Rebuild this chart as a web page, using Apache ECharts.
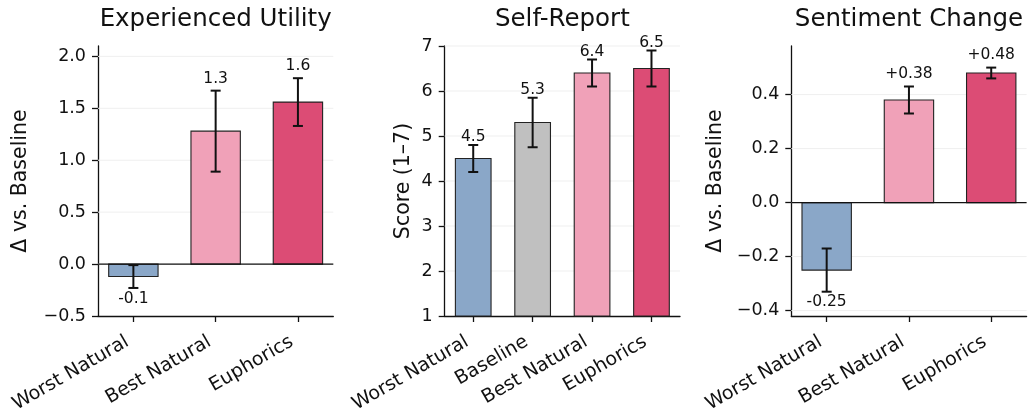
<!DOCTYPE html>
<html>
<head>
<meta charset="utf-8">
<script src="https://cdn.jsdelivr.net/npm/echarts@6/dist/echarts.min.js"></script>
<style>
  html, body { margin: 0; padding: 0; background: #ffffff; }
  #chart { width: 1028px; height: 408px; }
</style>
</head>
<body>
<div id="chart"></div>
<script>
// ---- data ----
const utilCats = ['Worst Natural', 'Best Natural', 'Euphorics'];
const utilMean = [-0.12, 1.28, 1.56];
const utilErr = [0.11, 0.39, 0.23];
const utilTicks = [-0.5, 0, 0.5, 1, 1.5, 2];

const selfCats = ['Worst Natural', 'Baseline', 'Best Natural', 'Euphorics'];
const selfMean = [4.5, 5.3, 6.4, 6.5];
const selfErr = [0.3, 0.55, 0.3, 0.4];
const selfTicks = [1, 2, 3, 4, 5, 6, 7];

const sentCats = ['Worst Natural', 'Best Natural', 'Euphorics'];
const sentMean = [-0.25, 0.38, 0.48];
const sentErr = [0.08, 0.05, 0.02];
const sentTicks = [-0.4, -0.2, 0, 0.2, 0.4];

const panelTitles = ['Experienced Utility', 'Self-Report', 'Sentiment Change'];
const panelYNames = ['Δ vs. Baseline', 'Score (1–7)', 'Δ vs. Baseline'];

// ---- styling ----
const FONT = '"DejaVu Sans", "Liberation Sans", sans-serif';
const INK = '#111111';
const groupColors = {
  'Worst Natural': '#8aa7c8',
  'Baseline': '#c0c0c0',
  'Best Natural': '#f0a1b8',
  'Euphorics': '#dc4c75'
};
const BAR_W = 0.6;

const minusFmt = (dec) => (v) => (v < 0 ? '\u2212' : '') + Math.abs(v).toFixed(dec);

const panels = [
  {
    cats: utilCats, mean: utilMean, err: utilErr, ticks: utilTicks,
    yMin: -0.5, yMax: 2.1, tickFmt: minusFmt(1),
    valFmt: (v) => v.toFixed(1), zeroLine: true,
    left: 98, nameGap: 67, gapUp: 4, gapDown: 3
  },
  {
    cats: selfCats, mean: selfMean, err: selfErr, ticks: selfTicks,
    yMin: 1, yMax: 7, tickFmt: minusFmt(0),
    valFmt: (v) => v.toFixed(1), zeroLine: false,
    left: 444.7, nameGap: 31, gapUp: 0, gapDown: 3
  },
  {
    cats: sentCats, mean: sentMean, err: sentErr, ticks: sentTicks,
    yMin: -0.42, yMax: 0.58, tickFmt: minusFmt(1),
    valFmt: (v) => (v > 0 ? '+' : '') + v.toFixed(2), zeroLine: true,
    left: 791.3, nameGap: 65, gapUp: 5, gapDown: 2
  }
];

const GRID_TOP = 46, GRID_H = 270, GRID_W = 235.3;

const grid = [], xAxis = [], yAxis = [], series = [], title = [];

panels.forEach((p, i) => {
  const n = p.cats.length;
  const pad = 0.05 * (n - 1 + BAR_W);
  const xMin = -BAR_W / 2 - pad;
  const xMax = n - 1 + BAR_W / 2 + pad;
  const idx = p.cats.map((_, k) => k);
  const base = Math.min(Math.max(0, p.yMin), p.yMax);

  grid.push({
    left: p.left, top: GRID_TOP, width: GRID_W, height: GRID_H,
    containLabel: false, outerBoundsMode: 'none'
  });

  title.push({
    text: panelTitles[i],
    left: p.left + GRID_W / 2,
    top: 7,
    padding: 0,
    textAlign: 'center',
    textStyle: { fontFamily: FONT, fontSize: 24.5, fontWeight: 'normal', color: INK }
  });

  xAxis.push({
    type: 'value', gridIndex: i, min: xMin, max: xMax,
    axisLine: { show: true, onZero: false, lineStyle: { color: INK, width: 1.3 } },
    axisTick: { show: true, length: 6, customValues: idx, lineStyle: { color: INK, width: 1.3 } },
    axisLabel: {
      customValues: idx, rotate: 30, margin: 21, padding: [0, 7, 0, 0],
      formatter: (v) => p.cats[Math.round(v)],
      fontFamily: FONT, fontSize: 19, color: INK
    },
    splitLine: { show: false }
  });

  yAxis.push({
    type: 'value', gridIndex: i, min: p.yMin, max: p.yMax,
    name: panelYNames[i], nameLocation: 'middle', nameGap: p.nameGap,
    nameTextStyle: { fontFamily: FONT, fontSize: 20.5, color: INK },
    axisLine: { show: true, onZero: false, lineStyle: { color: INK, width: 1.3 } },
    axisTick: { show: true, length: 6, customValues: p.ticks, lineStyle: { color: INK, width: 1.3 } },
    axisLabel: {
      customValues: p.ticks, margin: 12, formatter: p.tickFmt,
      fontFamily: FONT, fontSize: 17.5, color: INK
    },
    splitLine: { show: false }
  });

  // faint horizontal grid lines at the y ticks inside the plot area
  series.push({
    type: 'custom', xAxisIndex: i, yAxisIndex: i, silent: true, z: 1,
    data: p.ticks.filter((t) => t > p.yMin).map((t) => [t]),
    encode: { y: 0 },
    renderItem: (params, api) => {
      const v = api.value(0);
      const a = api.coord([xMin, v]);
      const b = api.coord([xMax, v]);
      return { type: 'line', shape: { x1: a[0], y1: a[1], x2: b[0], y2: b[1] },
               style: { stroke: '#efefef', lineWidth: 1 } };
    }
  });

  // bars
  series.push({
    type: 'custom', xAxisIndex: i, yAxisIndex: i, z: 2,
    data: p.mean.map((m, k) => [k, m, p.err[k]]),
    encode: { x: 0, y: 1 },
    renderItem: (params, api) => {
      const k = api.value(0), m = api.value(1);
      const a = api.coord([k - BAR_W / 2, m]);
      const b = api.coord([k + BAR_W / 2, base]);
      return {
        type: 'rect',
        shape: { x: a[0], y: Math.min(a[1], b[1]), width: b[0] - a[0], height: Math.abs(b[1] - a[1]) },
        style: { fill: groupColors[p.cats[k]], stroke: '#222222', lineWidth: 1.1 }
      };
    }
  });

  // zero reference line
  if (p.zeroLine) {
    series.push({
      type: 'custom', xAxisIndex: i, yAxisIndex: i, silent: true, z: 3,
      data: [[0]],
      encode: { y: 0 },
      renderItem: (params, api) => {
        const a = api.coord([xMin, api.value(0)]);
        const b = api.coord([xMax, api.value(0)]);
        return { type: 'line', shape: { x1: a[0], y1: a[1], x2: b[0], y2: b[1] },
                 style: { stroke: INK, lineWidth: 1.3 } };
      }
    });
  }

  // error bars with caps, and value labels
  series.push({
    type: 'custom', xAxisIndex: i, yAxisIndex: i, z: 4,
    data: p.mean.map((m, k) => [k, m, p.err[k]]),
    encode: { x: 0, y: 1 },
    renderItem: (params, api) => {
      const k = api.value(0), m = api.value(1), e = api.value(2);
      const top = api.coord([k, m + e]);
      const bot = api.coord([k, m - e]);
      const cap = 5;
      const ls = { stroke: '#111111', lineWidth: 2 };
      const labelStyle = {
        text: p.valFmt(m), fontFamily: FONT, fontSize: 15.5, fill: INK, align: 'center'
      };
      const label = m >= 0
        ? { type: 'text', x: top[0], y: top[1] - p.gapUp, style: Object.assign({ verticalAlign: 'bottom' }, labelStyle) }
        : { type: 'text', x: bot[0], y: bot[1] + p.gapDown, style: Object.assign({ verticalAlign: 'top' }, labelStyle) };
      return {
        type: 'group',
        children: [
          { type: 'line', shape: { x1: top[0], y1: top[1], x2: bot[0], y2: bot[1] }, style: ls },
          { type: 'line', shape: { x1: top[0] - cap, y1: top[1], x2: top[0] + cap, y2: top[1] }, style: ls },
          { type: 'line', shape: { x1: bot[0] - cap, y1: bot[1], x2: bot[0] + cap, y2: bot[1] }, style: ls },
          label
        ]
      };
    }
  });
});

const chart = echarts.init(document.getElementById('chart'), null, { renderer: 'canvas' });
chart.setOption({
  backgroundColor: '#ffffff',
  animation: false,
  title: title,
  grid: grid,
  xAxis: xAxis,
  yAxis: yAxis,
  series: series
});
</script>
</body>
</html>
